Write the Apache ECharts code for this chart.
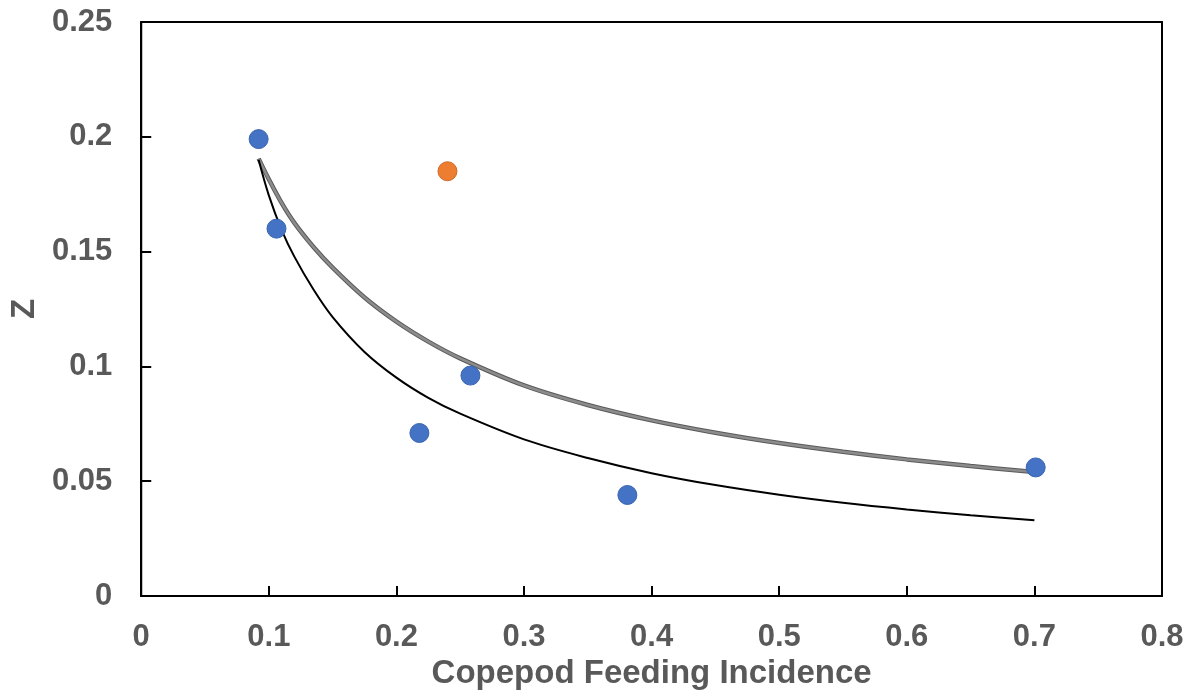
<!DOCTYPE html>
<html>
<head>
<meta charset="utf-8" />
<title>Z vs Copepod Feeding Incidence</title>
<script src="https://cdn.jsdelivr.net/npm/echarts@6/dist/echarts.min.js"></script>
<style>
    html, body { margin: 0; padding: 0; background: #fff; }
    #main { width: 1195px; height: 698px; }
</style>
</head>
<body>
<div id="main"></div>
<script type="text/javascript">
    // observed points (blue) and the outlier (orange)
    var blueX = [0.092, 0.106, 0.218, 0.258, 0.381, 0.701];
    var blueY = [0.199, 0.160, 0.071, 0.096, 0.044, 0.056];
    var orangeX = [0.240];
    var orangeY = [0.185];

    // fitted curves
    var curveX = [0.092, 0.1, 0.11, 0.12, 0.135, 0.15, 0.175, 0.2, 0.225, 0.25, 0.3, 0.35, 0.4, 0.45, 0.5, 0.55, 0.6, 0.65, 0.7];
    var grayY  = [0.1905, 0.1815, 0.1712, 0.1625, 0.1520, 0.1430, 0.1300, 0.1195, 0.1108, 0.1035, 0.0917, 0.0832, 0.0765, 0.0711, 0.0666, 0.0628, 0.0595, 0.0566, 0.0540];
    var blackY = [0.1900, 0.1745, 0.1595, 0.1478, 0.1335, 0.1215, 0.1063, 0.0951, 0.0863, 0.0794, 0.0682, 0.0601, 0.0535, 0.0483, 0.0441, 0.0406, 0.0377, 0.0352, 0.0330];

    function pairs(xs, ys) {
        var out = [];
        for (var i = 0; i < xs.length; i++) out.push([xs[i], ys[i]]);
        return out;
    }

    var FONT = 'Liberation Sans, Arial, sans-serif';
    var labelFont = { color: '#595959', fontFamily: FONT, fontWeight: 'bold', fontSize: 31 };
    var nameFont = { color: '#595959', fontFamily: FONT, fontWeight: 'bold', fontSize: 33 };

    var myChart = echarts.init(document.getElementById('main'));
    var option = {
        animation: false,
        grid: { left: 140, right: 33, top: 22, bottom: 102, show: true, borderColor: '#000', borderWidth: 2 },
        xAxis: {
            type: 'value',
            min: 0, max: 0.8, interval: 0.1,
            name: 'Copepod Feeding Incidence',
            nameLocation: 'middle',
            nameGap: 57,
            nameTextStyle: nameFont,
            axisLine: { show: true, onZero: false, lineStyle: { color: '#000', width: 2 } },
            axisTick: { show: true, inside: true, length: 10, lineStyle: { color: '#000', width: 2 } },
            axisLabel: Object.assign({ margin: 26, formatter: function (v) { return String(+v.toFixed(2)); } }, labelFont),
            splitLine: { show: false }
        },
        yAxis: {
            type: 'value',
            min: 0, max: 0.25, interval: 0.05,
            name: 'Z',
            nameLocation: 'middle',
            nameGap: 99,
            nameTextStyle: nameFont,
            axisLine: { show: true, onZero: false, lineStyle: { color: '#000', width: 2 } },
            axisTick: { show: true, inside: true, length: 10, lineStyle: { color: '#000', width: 2 } },
            axisLabel: Object.assign({ margin: 29, formatter: function (v) { return String(+v.toFixed(2)); } }, labelFont),
            splitLine: { show: false }
        },
        series: [
            {
                name: 'gray edge',
                type: 'line',
                data: pairs(curveX, grayY),
                showSymbol: false,
                smooth: 0.35,
                lineStyle: { color: '#5a5a5a', width: 4.5 },
                z: 2
            },
            {
                name: 'gray fit',
                type: 'line',
                data: pairs(curveX, grayY),
                showSymbol: false,
                smooth: 0.35,
                lineStyle: { color: '#8c8c8c', width: 2.5 },
                z: 3
            },
            {
                name: 'black fit',
                type: 'line',
                data: pairs(curveX, blackY),
                showSymbol: false,
                smooth: 0.35,
                lineStyle: { color: '#000', width: 2 },
                z: 3
            },
            {
                name: 'observed',
                type: 'scatter',
                data: pairs(blueX, blueY),
                symbolSize: 19,
                itemStyle: { color: '#4472c4', borderColor: '#3a64b0', borderWidth: 1, opacity: 1 },
                z: 5
            },
            {
                name: 'outlier',
                type: 'scatter',
                data: pairs(orangeX, orangeY),
                symbolSize: 19,
                itemStyle: { color: '#ed7d31', borderColor: '#d06a25', borderWidth: 1, opacity: 1 },
                z: 5
            }
        ]
    };
    myChart.setOption(option);
</script>
</body>
</html>
